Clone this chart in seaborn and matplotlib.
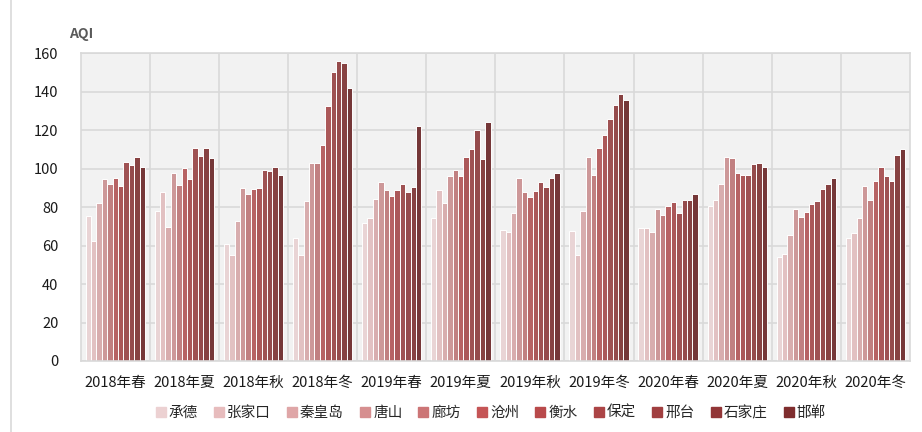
import pandas as pd
import numpy as np
import seaborn as sns
from matplotlib import pyplot as plt
from matplotlib.lines import Line2D

seasons = ['2018年春', '2018年夏', '2018年秋', '2018年冬',
           '2019年春', '2019年夏', '2019年秋', '2019年冬',
           '2020年春', '2020年夏', '2020年秋', '2020年冬']
cities = ['承德', '张家口', '秦皇岛', '唐山', '廊坊', '沧州',
          '衡水', '保定', '邢台', '石家庄', '邯郸']

# AQI per season, one list per city (in season order)
chengde      = [75.4, 78.0, 61.0, 64.0, 71.9, 74.5, 67.9, 67.6, 69.2, 80.6, 54.2, 63.8]
zhangjiakou  = [62.4, 87.7, 54.9, 55.3, 74.2, 88.7, 67.2, 54.9, 69.2, 83.5, 55.8, 66.4]
qinhuangdao  = [82.0, 69.7, 72.8, 83.0, 84.1, 82.0, 76.9, 77.8, 67.2, 91.9, 65.5, 74.2]
tangshan     = [94.6, 97.6, 89.9, 102.9, 92.9, 96.2, 95.3, 105.9, 78.9, 105.9, 78.9, 91.0]
langfang     = [92.0, 91.7, 87.0, 102.9, 88.9, 99.3, 87.9, 96.7, 75.9, 105.5, 74.9, 83.9]
cangzhou     = [95.3, 100.3, 89.6, 112.1, 85.8, 96.2, 85.4, 110.7, 80.6, 97.6, 77.5, 93.6]
hengshui     = [91.0, 94.8, 89.9, 132.8, 88.9, 105.9, 88.2, 117.7, 82.8, 96.9, 81.8, 100.7]
baoding      = [103.3, 110.7, 99.1, 150.1, 91.9, 110.2, 92.9, 125.6, 77.0, 96.9, 83.2, 96.0]
xingtai      = [101.9, 106.6, 98.6, 156.0, 87.7, 120.3, 90.6, 133.3, 83.9, 102.3, 89.6, 93.6]
shijiazhuang = [105.9, 110.7, 100.7, 155.1, 90.6, 105.0, 95.0, 139.0, 83.5, 102.8, 92.2, 106.9]
handan       = [100.9, 105.4, 96.7, 142.1, 122.0, 124.1, 97.6, 135.5, 87.0, 100.9, 95.3, 110.1]

city_values = [chengde, zhangjiakou, qinhuangdao, tangshan, langfang, cangzhou,
               hengshui, baoding, xingtai, shijiazhuang, handan]

colors = ['#ecd1d2', '#e7bcbd', '#dfa6a7', '#d68f90', '#cc7576', '#c55556',
          '#b94a4b', '#ac4546', '#a13f40', '#923637', '#7f2d2e']

rows = []
for city, vals in zip(cities, city_values):
    for s, v in zip(seasons, vals):
        rows.append({'season': s, 'city': city, 'aqi': v})
df = pd.DataFrame(rows)

sns.set_style('white')
plt.rcParams['font.family'] = ['Noto Sans CJK SC', 'DejaVu Sans']

fig = plt.figure(figsize=(9.22, 4.32), dpi=100)
ax = fig.add_axes([0.0875, 0.1644, 0.8995, 0.7122])

sns.barplot(data=df, x='season', y='aqi', hue='city', order=seasons,
            hue_order=cities, palette=colors, width=0.86, edgecolor='white',
            linewidth=0.7, ax=ax, legend=False)

ax.set_facecolor('#f2f2f2')
ax.set_ylim(0, 160)
ax.set_xlim(-0.5, len(seasons) - 0.5)
ax.set_yticks(range(0, 161, 20))
ax.set_xticks(np.arange(len(seasons) - 1) + 0.5, minor=True)
ax.grid(axis='y', which='major', color='#d9d9d9', linewidth=1.2)
ax.grid(axis='x', which='minor', color='#d9d9d9', linewidth=1.2)
ax.grid(axis='x', which='major', visible=False)
ax.set_axisbelow(True)
for sp in ax.spines.values():
    sp.set_color('#d9d9d9')
    sp.set_linewidth(1.2)
ax.tick_params(axis='both', which='both', length=0, labelsize=10.5, colors='#1a1a1a')
ax.tick_params(axis='y', pad=16)
ax.tick_params(axis='x', pad=11)
ax.set_xlabel('')
ax.set_ylabel('')

fig.text(0.088, 0.921, 'AQI', fontsize=10, fontweight='bold', color='#595959',
         ha='center', va='center')

handles = [Line2D([], [], marker='s', linestyle='none', markersize=6.5,
                  markerfacecolor=c, markeredgecolor=c) for c in colors]
fig.legend(handles, cities, loc='center', bbox_to_anchor=(0.531, 0.044),
           ncol=len(cities), frameon=False, fontsize=10.5, handletextpad=0.05,
           columnspacing=0.95, handlelength=1.0)

# left border line of the chart box
fig.add_artist(Line2D([0.0115, 0.0115], [0, 1], color='#d9d9d9', linewidth=1.2,
                      transform=fig.transFigure))

fig.savefig('out.png', dpi=100)
